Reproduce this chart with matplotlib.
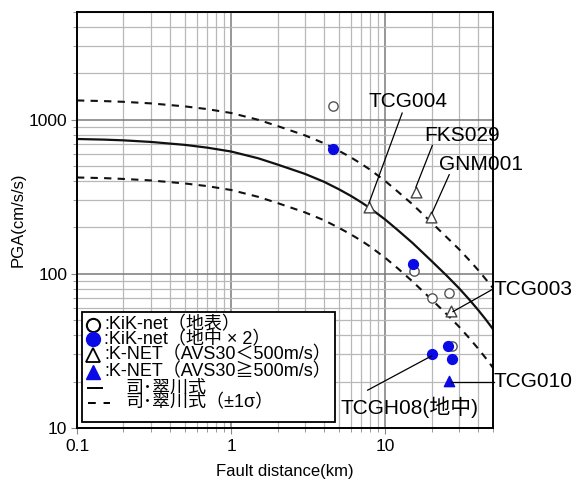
import matplotlib
matplotlib.use("Agg")
import matplotlib.pyplot as plt
from matplotlib.ticker import LogLocator, NullFormatter, FixedLocator, FixedFormatter
from matplotlib.patches import Rectangle
from matplotlib.lines import Line2D

plt.rcParams['font.family'] = ['Liberation Sans', 'Noto Sans CJK JP', 'DejaVu Sans']

# ---------------- data ----------------
# KiK-net surface (open circles)
kik_surf_x = [4.57, 15.3, 20.2, 25.8, 27.3]
kik_surf_y = [1219, 104, 70, 75.7, 34]
# KiK-net borehole x2 (blue filled circles)
kik_bore_x = [4.57, 15.2, 25.6, 20.2, 27.3]
kik_bore_y = [646, 116, 34, 30, 27.9]
# K-NET AVS30 < 500 (open triangles)
knet_soft_x = [7.85, 15.8, 19.7, 26.8]
knet_soft_y = [271, 342, 235, 57.8]
# K-NET AVS30 >= 500 (blue triangles)
knet_hard_x = [25.9]
knet_hard_y = [20.2]

# Si-Midorikawa curve and +-1 sigma
curve_x = [0.1, 0.15, 0.2, 0.3, 0.5, 0.7, 1, 1.5, 2, 3, 4, 5, 6, 7, 8, 10, 12, 15,
           20, 25, 30, 35, 40, 45, 50]
curve_mid = [750, 743, 735, 718, 687, 659, 622, 562, 512, 446, 396, 354, 320, 291, 266,
             225, 193, 159, 121, 97.5, 81, 68.3, 58.4, 50.4, 43.8]
curve_up = [1334, 1321, 1307, 1277, 1221, 1172, 1106, 999, 910, 793, 704, 629, 569, 517,
            473, 400, 343, 283, 215, 173, 145, 123, 106, 92, 81]
curve_lo = [422, 418, 413, 404, 386, 371, 350, 316, 288, 251, 223, 199, 180, 164, 150,
            127, 109, 89.4, 68.1, 54.8, 45.6, 38.4, 32.8, 28.3, 24.6]

x_ticks = [0.1, 1, 10]
x_ticklabels = ['0.1', '1', '10']
y_ticks = [10, 100, 1000]
y_ticklabels = ['10', '100', '1000']

# station labels: (text, text pos, line start, line end) in data coords
stations = ['TCG004', 'FKS029', 'GNM001', 'TCG003', 'TCG010', 'TCGH08(地中)']
label_pos = [(14.06, 1309), (31.4, 787), (41.9, 511), (91.4, 78.7), (91.4, 20.0), (14.3, 13.7)]
line_start = [(12.87, 1105), (20.2, 681), (26.0, 440), (49.8, 79.5), (51.0, 20.0), (7.69, 17.6)]
line_end = [(7.85, 289), (15.8, 365), (20.1, 248), (27.5, 56.9), (26.8, 20.0), (19.9, 29.3)]

legend_labels = [':KiK-net（地表）', ':KiK-net（地中 × 2）', ':K-NET（AVS30＜500m/s）',
                 ':K-NET（AVS30≧500m/s）', '司･翠川式', '司･翠川式（±1σ）']

BLUE = '#0a0ae6'
W, H = 581, 482

fig = plt.figure(figsize=(W / 100, H / 100), dpi=100)
ax = fig.add_axes([77 / W, 1 - 428 / H, 416 / W, 416 / H])
ax.set_xscale('log')
ax.set_yscale('log')
ax.set_xlim(0.1, 50)
ax.set_ylim(10, 5000)

ax.xaxis.set_major_locator(FixedLocator(x_ticks))
ax.xaxis.set_major_formatter(FixedFormatter(x_ticklabels))
ax.yaxis.set_major_locator(FixedLocator(y_ticks))
ax.yaxis.set_major_formatter(FixedFormatter(y_ticklabels))
ax.xaxis.set_minor_locator(LogLocator(base=10, subs=range(2, 10)))
ax.yaxis.set_minor_locator(LogLocator(base=10, subs=range(2, 10)))
ax.xaxis.set_minor_formatter(NullFormatter())
ax.yaxis.set_minor_formatter(NullFormatter())

ax.grid(which='minor', color='#b8b8b8', lw=0.9)
ax.grid(which='major', color='#7a7a7a', lw=1.1)
ax.set_axisbelow(True)
ax.tick_params(which='both', direction='out', color='#888888')
ax.tick_params(which='major', length=4, labelsize=12.5)
ax.tick_params(axis='x', which='major', pad=4)
ax.tick_params(axis='y', which='major', pad=3)
ax.tick_params(which='minor', length=3)
for s in ax.spines.values():
    s.set_linewidth(1.4)

ax.set_xlabel('Fault distance(km)', fontsize=12, labelpad=7)
ax.set_ylabel('PGA(cm/s/s)', fontsize=12, labelpad=2)

# curves
ax.plot(curve_x, curve_mid, color='#111111', lw=1.6)
ax.plot(curve_x, curve_up, color='#111111', lw=1.5, ls=(0, (3.5, 3)))
ax.plot(curve_x, curve_lo, color='#111111', lw=1.5, ls=(0, (3.5, 3)))

# points
ax.scatter(kik_surf_x, kik_surf_y, s=45, facecolors='white', edgecolors='#555555', linewidths=1.0, zorder=3)
ax.scatter(kik_bore_x, kik_bore_y, s=50, color=BLUE, zorder=4)
ax.scatter(knet_soft_x, knet_soft_y, s=60, marker='^', facecolors='white', edgecolors='#444444', linewidths=1.0, zorder=3)
ax.scatter(knet_hard_x, knet_hard_y, s=55, marker='^', color=BLUE, zorder=4)

# station annotations
for name, tp, ls_, le in zip(stations, label_pos, line_start, line_end):
    ax.plot([ls_[0], le[0]], [ls_[1], le[1]], color='black', lw=0.9, clip_on=False, zorder=5)
    ax.text(tp[0], tp[1], name, fontsize=15, ha='center', va='center', clip_on=False, zorder=6)

# legend (manual)
def fx(px):
    return px / W

def fy(py):
    return 1 - py / H

fig.patches.append(Rectangle((fx(82), fy(422.3)), fx(335) - fx(82), fy(312.3) - fy(422.3),
                             transform=fig.transFigure, facecolor='white', edgecolor='black',
                             lw=1.3, zorder=10))
rows = [325, 339.3, 355, 371.7, 388, 403]
mk = dict(transform=fig.transFigure, zorder=11, clip_on=False)
fig.add_artist(Line2D([fx(93)], [fy(rows[0])], marker='o', ms=9.5, mfc='white', mec='black', mew=1.5, ls='none', **mk))
fig.add_artist(Line2D([fx(93)], [fy(rows[1])], marker='o', ms=10, mfc=BLUE, mec=BLUE, ls='none', **mk))
fig.add_artist(Line2D([fx(93)], [fy(rows[2])], marker='^', ms=10, mfc='white', mec='black', mew=1.3, ls='none', **mk))
fig.add_artist(Line2D([fx(93)], [fy(rows[3])], marker='^', ms=10, mfc=BLUE, mec=BLUE, ls='none', **mk))
fig.add_artist(Line2D([fx(88), fx(102)], [fy(rows[4])] * 2, color='black', lw=1.4, **mk))
fig.add_artist(Line2D([fx(88), fx(110)], [fy(rows[5])] * 2, color='black', lw=1.4, ls=(0, (4, 4)), **mk))
text_x = [104, 104, 104, 104, 125, 125]
for lab, tx, ry in zip(legend_labels, text_x, rows):
    fig.text(fx(tx), fy(ry), lab, fontsize=13, ha='left', va='center', zorder=12)

fig.savefig('out.png', dpi=100)
